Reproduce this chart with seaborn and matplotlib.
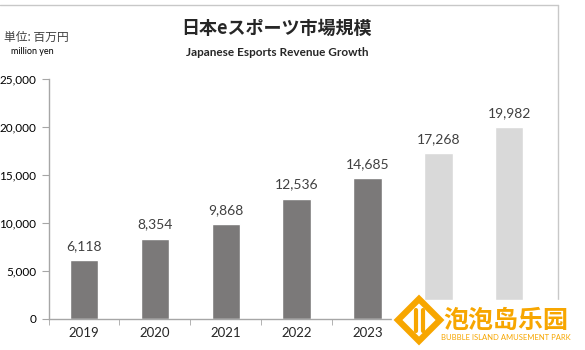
import seaborn as sns
import matplotlib.pyplot as plt
import pandas as pd
from matplotlib.lines import Line2D

# Data
years = ['2019', '2020', '2021', '2022', '2023', '2024', '2025']
revenue = [6118, 8354, 9868, 12536, 14685, 17268, 19982]
kind = ['actual', 'actual', 'actual', 'actual', 'actual', 'forecast', 'forecast']

df = pd.DataFrame({'Year': years, 'Revenue': revenue, 'Kind': kind})

sns.set_style('white')
plt.rcParams['font.family'] = ['Lato', 'Noto Sans CJK JP', 'DejaVu Sans']

fig = plt.figure(figsize=(5.85, 3.5), dpi=100)
ax = fig.add_axes([0.083, 0.0886, 0.848, 0.6857])

sns.barplot(data=df, x='Year', y='Revenue', hue='Kind', dodge=False,
            palette={'actual': '#7b7979', 'forecast': '#d9d9d9'},
            width=0.4, legend=False, ax=ax, saturation=1)

for c in ax.containers:
    ax.bar_label(c, labels=[f'{v:,.0f}' if v == v else '' for v in c.datavalues],
                 padding=6, fontsize=10, color='#404040')

ax.set_xlim(-0.5, 6.5)
ax.set_ylim(0, 25000)
ax.set_yticks(range(0, 25001, 5000))
ax.set_yticklabels([f'{v:,}' for v in range(0, 25001, 5000)], fontsize=8.5, color='#000000')
ax.set_xlabel('')
ax.set_ylabel('')
ax.tick_params(axis='x', length=0, labelsize=9.5, pad=6)
ax.tick_params(axis='y', length=5, direction='out', color='#a6a6a6', left=True, pad=4)
# category separator ticks along x axis
ax.set_xticks([i - 0.5 for i in range(len(years) + 1)], minor=True)
ax.tick_params(axis='x', which='minor', length=4, direction='out', color='#a6a6a6', bottom=True)
# forecast year labels are hidden under the watermark in the source
for lbl in ax.get_xticklabels()[5:]:
    lbl.set_visible(False)

for s in ['top', 'right']:
    ax.spines[s].set_visible(False)
for s in ['left', 'bottom']:
    ax.spines[s].set_color('#a6a6a6')
    ax.spines[s].set_linewidth(1)

# titles and unit labels
fig.text(0.472, 0.92, '日本eスポーツ市場規模', ha='center', va='center',
         fontsize=13, fontweight='bold', family=['Noto Sans CJK JP', 'DejaVu Sans'])
fig.text(0.474, 0.851, 'Japanese Esports Revenue Growth', ha='center', va='center',
         fontsize=8.5, fontweight='bold')
fig.text(0.062, 0.893, '単位: 百万円', ha='center', va='center', fontsize=8.5,
         color='#404040', family=['Noto Sans CJK JP', 'DejaVu Sans'])
fig.text(0.056, 0.853, 'million yen', ha='center', va='center', fontsize=6.5, color='#000000')

# frame lines (cropped chart border)
fig.add_artist(Line2D([0, 558 / 585], [1 - 5 / 350, 1 - 5 / 350], color='#c8c8c8', lw=1))
fig.add_artist(Line2D([558 / 585, 558 / 585], [1 - 5 / 350, 1 - 300 / 350], color='#c8c8c8', lw=1))

# watermark
orange = '#f7a600'
fig.patches.append(plt.Rectangle((392 / 585, 0.0), 193 / 585, 50 / 350,
                                 transform=fig.transFigure, color='white', zorder=5))
fig.add_artist(Line2D([0.717], [0.085], marker='D', markersize=21, markerfacecolor='none',
                      markeredgecolor=orange, markeredgewidth=4.5, zorder=6))
fig.add_artist(Line2D([0.711, 0.711], [0.055, 0.115], color=orange, lw=3, zorder=6))
fig.add_artist(Line2D([0.723, 0.723], [0.055, 0.115], color=orange, lw=3, zorder=6))
fig.text(0.865, 0.083, '泡泡岛乐园', ha='center', va='center', fontsize=18,
         fontweight='bold', color=orange, zorder=6,
         family=['Noto Sans CJK SC', 'DejaVu Sans'])
fig.text(0.865, 0.037, 'BUBBLE ISLAND AMUSEMENT PARK', ha='center', va='center',
         fontsize=5.5, color=orange, zorder=6)

fig.savefig('out.png', dpi=100)
